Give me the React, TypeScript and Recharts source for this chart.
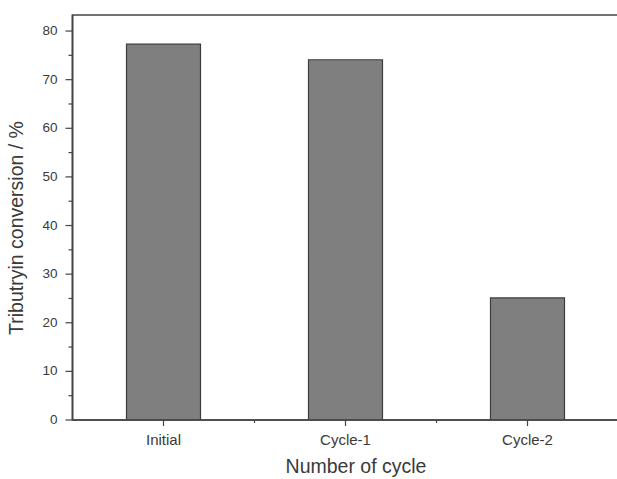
import React from 'react';
import { BarChart, Bar, XAxis, YAxis, ReferenceArea } from 'recharts';

const categories = ['Initial', 'Cycle-1', 'Cycle-2'];
const positions = [1, 2, 3];
const conversion = [77.3, 74.1, 25.1];
const yTicks = [0, 5, 10, 15, 20, 25, 30, 35, 40, 45, 50, 55, 60, 65, 70, 75, 80];
const xTicks = [1, 1.5, 2, 2.5, 3];

const data = positions.map((p, i) => ({ x: p, name: categories[i], value: conversion[i] }));

const AXIS = '#444';
const TEXT = '#3a3a3a';
const FONT = 'Liberation Sans, Arial, sans-serif';

const YTick = (props: any) => {
  const { x, y, payload } = props;
  const v = payload.value;
  const major = v % 10 === 0;
  const len = major ? 7 : 4;
  return (
    <g>
      <line x1={x - len} y1={y} x2={x} y2={y} stroke={AXIS} strokeWidth={1.2} />
      {major && (
        <text x={x - 15} y={y} dy="0.3em" textAnchor="end" fontSize={13.5} fill={TEXT} fontFamily={FONT}>
          {v}
        </text>
      )}
    </g>
  );
};

const XTick = (props: any) => {
  const { x, y, payload } = props;
  const v = payload.value;
  const idx = positions.indexOf(v);
  const major = idx >= 0;
  const len = major ? 6 : 3;
  return (
    <g>
      <line x1={x} y1={y} x2={x} y2={y + len} stroke={AXIS} strokeWidth={1.2} />
      {major && (
        <text x={x} y={y + 25} textAnchor="middle" fontSize={15} fill={TEXT} fontFamily={FONT}>
          {categories[idx]}
        </text>
      )}
    </g>
  );
};

const YLabel = () => (
  <text
    x={23}
    y={228}
    transform="rotate(-90, 23, 228)"
    textAnchor="middle"
    fontSize={19.5}
    fill={TEXT}
    fontFamily={FONT}
  >
    Tributryin conversion / %
  </text>
);

const XLabel = () => (
  <text x={356} y={473} textAnchor="middle" fontSize={19.5} fill={TEXT} fontFamily={FONT}>
    Number of cycle
  </text>
);

export default function App() {
  return (
    <div style={{ position: 'absolute', left: 0, top: 0, width: 617, height: 479, overflow: 'hidden', background: '#fff' }}>
      <BarChart
        width={626}
        height={479}
        data={data}
        margin={{ top: 15, right: 7.5, left: 0, bottom: 0 }}
      >
        <XAxis
          dataKey="x"
          type="number"
          domain={[0.5, 3.5]}
          ticks={xTicks}
          tick={<XTick />}
          tickLine={false}
          tickSize={0}
          tickMargin={0}
          axisLine={{ stroke: AXIS, strokeWidth: 1.6 }}
          height={59}
          allowDecimals
          interval={0}
          label={<XLabel />}
        />
        <YAxis
          type="number"
          domain={[0, 83.3]}
          ticks={yTicks}
          tick={<YTick />}
          tickLine={false}
          tickSize={0}
          tickMargin={0}
          axisLine={{ stroke: AXIS, strokeWidth: 1.6 }}
          width={72.5}
          interval={0}
          allowDataOverflow
          label={<YLabel />}
        />
        <ReferenceArea
          x1={0.5}
          x2={3.5}
          y1={0}
          y2={83.3}
          fill="none"
          stroke={AXIS}
          strokeWidth={1.6}
          ifOverflow="visible"
        />
        <Bar dataKey="value" fill="#7f7f7f" stroke="#3c3c3c" strokeWidth={1.2} barSize={74} isAnimationActive={false} />
      </BarChart>
    </div>
  );
}
